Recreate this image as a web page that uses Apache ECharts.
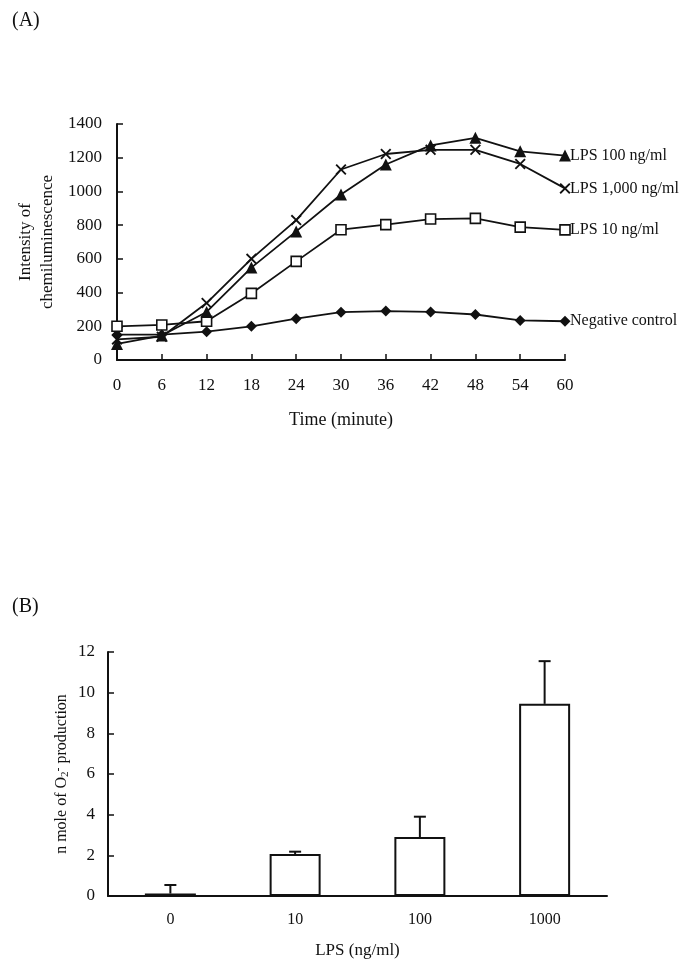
<!DOCTYPE html>
<html>
<head>
<meta charset="utf-8">
<script src="https://cdn.jsdelivr.net/npm/echarts@6/dist/echarts.min.js"></script>
<style>html,body{margin:0;padding:0;background:#fff;}#c{width:685px;height:967px;}</style>
</head>
<body>
<div id="c"></div>
<script>
// ---- Panel A data ----
const timePoints = [0, 6, 12, 18, 24, 30, 36, 42, 48, 54, 60];
const lps100 = [95, 145, 285, 548, 763, 982, 1160, 1273, 1318, 1238, 1213];
const lps1000 = [122, 138, 338, 600, 830, 1130, 1222, 1247, 1247, 1163, 1018];
const lps10 = [200, 208, 230, 395, 585, 773, 803, 836, 840, 788, 772];
const negControl = [150, 150, 168, 200, 245, 284, 290, 285, 270, 235, 230];
const seriesNamesA = ['LPS 100 ng/ml', 'LPS 1,000 ng/ml', 'LPS 10 ng/ml', 'Negative control'];
const yTicksA = [0, 200, 400, 600, 800, 1000, 1200, 1400];

// ---- Panel B data ----
const lpsDoses = ['0', '10', '100', '1000'];
const o2Values = [0.12, 2.06, 2.9, 9.45];
const o2Errors = [0.42, 0.12, 1.0, 2.1];

const serif = '"Liberation Serif", "DejaVu Serif", serif';
const black = '#111';

function pairs(vals) { return timePoints.map((t, i) => [t, vals[i]]); }

const xMark = 'path://M0,1.2 L1.2,0 L5,3.8 L8.8,0 L10,1.2 L6.2,5 L10,8.8 L8.8,10 L5,6.2 L1.2,10 L0,8.8 L3.8,5 Z';

function lineSeries(name, vals, symbol, size, fill) {
  return {
    type: 'line', name: name, xAxisIndex: 0, yAxisIndex: 0,
    data: pairs(vals),
    symbol: symbol, symbolSize: size, showAllSymbol: true,
    lineStyle: { color: black, width: 1.8 },
    itemStyle: { color: fill, borderColor: black, borderWidth: fill === '#fff' ? 1.6 : 0 },
    endLabel: { show: true, formatter: name, color: black, fontFamily: serif, fontSize: 16, distance: 5 },
    emphasis: { disabled: true },
    animation: false,
    z: 3
  };
}

const chart = echarts.init(document.getElementById('c'), null, { renderer: 'canvas' });

const axisLineStyle = { lineStyle: { color: black, width: 2 } };

chart.setOption({
  backgroundColor: '#fff',
  animation: false,
  title: [
    { text: '(A)', left: 7, top: 6, textStyle: { fontFamily: serif, fontSize: 20, fontWeight: 'normal', color: black } },
    { text: '(B)', left: 7, top: 592, textStyle: { fontFamily: serif, fontSize: 20, fontWeight: 'normal', color: black } }
  ],
  grid: [
    { left: 117, top: 124, width: 448, height: 236 },
    { left: 108, top: 652, width: 499, height: 244 }
  ],
  xAxis: [
    {
      gridIndex: 0, type: 'value', min: 0, max: 60, interval: 6,
      axisLine: axisLineStyle,
      axisTick: { show: true, inside: true, length: 6, lineStyle: { color: black, width: 1.5 } },
      axisLabel: { color: black, fontFamily: serif, fontSize: 17, margin: 17 },
      splitLine: { show: false },
      name: 'Time (minute)', nameLocation: 'middle', nameGap: 51, nameMoveOverlap: false,
      nameTextStyle: { color: black, fontFamily: serif, fontSize: 18 }
    },
    {
      gridIndex: 1, type: 'category', data: lpsDoses,
      axisLine: axisLineStyle,
      axisTick: { show: false },
      axisLabel: { color: black, fontFamily: serif, fontSize: 16, margin: 16 },
      name: 'LPS (ng/ml)', nameLocation: 'middle', nameGap: 46, nameMoveOverlap: false,
      nameTextStyle: { color: black, fontFamily: serif, fontSize: 17 }
    }
  ],
  yAxis: [
    {
      gridIndex: 0, type: 'value', min: yTicksA[0], max: yTicksA[yTicksA.length - 1], interval: 200,
      axisLine: { show: true, lineStyle: { color: black, width: 2 } },
      axisTick: { show: true, inside: true, length: 6, lineStyle: { color: black, width: 1.5 } },
      axisLabel: { color: black, fontFamily: serif, fontSize: 17, margin: 15, formatter: function (v) { return String(v); } },
      splitLine: { show: false },
      name: 'Intensity of\nchemiluminescence', nameLocation: 'middle', nameGap: 58, nameMoveOverlap: false,
      nameTextStyle: { color: black, fontFamily: serif, fontSize: 17, lineHeight: 22 }
    },
    {
      gridIndex: 1, type: 'value', min: 0, max: 12, interval: 2,
      axisLine: { show: true, lineStyle: { color: black, width: 2 } },
      axisTick: { show: true, inside: true, length: 6, lineStyle: { color: black, width: 1.5 } },
      axisLabel: { color: black, fontFamily: serif, fontSize: 17, margin: 13 },
      splitLine: { show: false },
      name: 'n mole of O{sub|2}{sup|-} production', nameLocation: 'middle', nameGap: 37, nameMoveOverlap: false,
      nameTextStyle: {
        color: black, fontFamily: serif, fontSize: 16,
        rich: {
          sub: { fontFamily: serif, fontSize: 11, color: black, verticalAlign: 'bottom', padding: [6, 0, 0, 0] },
          sup: { fontFamily: serif, fontSize: 12, color: black, verticalAlign: 'top', padding: [0, 0, 6, 0] }
        }
      }
    }
  ],
  series: [
    lineSeries(seriesNamesA[3], negControl, 'diamond', 11, black),
    lineSeries(seriesNamesA[2], lps10, 'rect', 10, '#fff'),
    lineSeries(seriesNamesA[1], lps1000, xMark, 11, black),
    lineSeries(seriesNamesA[0], lps100, 'triangle', 12, black),
    {
      type: 'bar', xAxisIndex: 1, yAxisIndex: 1, data: o2Values,
      barWidth: 51,
      itemStyle: { color: '#fff', borderColor: black, borderWidth: 2 },
      emphasis: { disabled: true },
      z: 2
    },
    {
      type: 'custom', xAxisIndex: 1, yAxisIndex: 1,
      data: lpsDoses.map((d, i) => [i, o2Values[i], o2Errors[i]]),
      renderItem: function (params, api) {
        const idx = api.value(0);
        const base = api.coord([idx, api.value(1)]);
        const top = api.coord([idx, api.value(1) + api.value(2)]);
        const half = 6;
        const st = { stroke: black, lineWidth: 2 };
        return {
          type: 'group',
          children: [
            { type: 'line', shape: { x1: base[0], y1: base[1], x2: top[0], y2: top[1] }, style: st },
            { type: 'line', shape: { x1: top[0] - half, y1: top[1], x2: top[0] + half, y2: top[1] }, style: st }
          ]
        };
      },
      z: 3
    }
  ]
});
</script>
</body>
</html>
